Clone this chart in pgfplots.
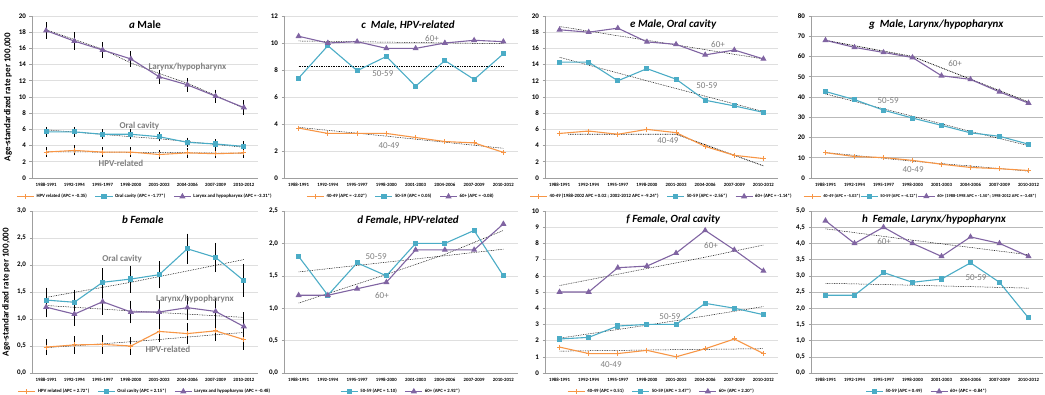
\documentclass[border=0pt]{standalone}
\usepackage{fontspec}
\setmainfont{Carlito}
\usepackage{pgfplots}
\pgfplotsset{compat=1.18}

\definecolor{cOr}{HTML}{F79646}
\definecolor{cTe}{HTML}{4BACC6}
\definecolor{cPu}{HTML}{8064A2}
\definecolor{lbl}{HTML}{7F7F7F}

\pgfplotsset{
  panel/.style={
    scale only axis, height=162pt,
    xmin=-0.5, xmax=7.5, ymin=0,
    xtick={0,...,7},
    xticklabels={1988-1991,1992-1994,1995-1997,1998-2000,2001-2003,2004-2006,2007-2009,2010-2012},
    axis x line*=bottom, axis y line*=left,
    axis line style={draw=gray!75, line width=0.6pt},
    ymajorgrids, grid style={draw=gray!25, line width=0.6pt},
    ytick style={draw=gray!75, line width=0.6pt},
    xtick style={draw=none},
    major tick length=2.5pt,
    tick align=outside,
    /pgf/number format/assume math mode=true,
    x tick label style={font=\fontsize{4.8}{5}\selectfont\bfseries, yshift=1pt},
    y tick label style={font=\fontsize{7}{8}\selectfont\bfseries},
    clip=false,
    legend style={at={(0.5,-0.085)}, anchor=north, draw=none, fill=none,
      font=\fontsize{4.8}{5}\selectfont\bfseries, inner sep=0pt,
      /tikz/every even column/.append style={column sep=6pt}},
    legend columns=-1,
  },
  commafmt/.style={yticklabel style={/pgf/number format/.cd, use comma, fixed, fixed zerofill, precision=1}},
  sO/.style={color=cOr, line width=1.1pt, mark=+, mark size=2.5pt, mark options={line width=1pt, solid}},
  sT/.style={color=cTe, line width=1.1pt, mark=square*, mark size=2pt, mark options={solid}},
  sP/.style={color=cPu, line width=1.1pt, mark=triangle*, mark size=2.5pt, mark options={solid}},
  trend/.style={black, line width=0.5pt, dash pattern=on 0.8pt off 0.9pt, forget plot},
  ebar/.style={error bars/y dir=both, error bars/y explicit,
    error bars/error bar style={black, line width=0.9pt, solid},
    error bars/error mark options={black, mark size=2.2pt, line width=0.9pt}},
}
\tikzset{
  ttl/.style={font=\fontsize{11}{12}\selectfont\bfseries\itshape},
  lab/.style={font=\fontsize{9}{10}\selectfont, text=lbl},
  labb/.style={font=\fontsize{9}{10}\selectfont\bfseries, text=lbl},
}

\begin{document}
\begin{tikzpicture}
\useasboundingbox (0,0) rectangle (1045pt,394pt);

% ---------- a: Male ----------
\begin{axis}[panel, at={(32pt,216pt)}, anchor=south west, width=226pt,
  ymax=20, ytick={0,2,...,20},
  ylabel={Age-standardized rate per 100,000},
  ylabel style={font=\fontsize{9}{10}\selectfont\bfseries}]
\addplot[trend] coordinates {(0,3.25) (4,3.15) (7,3.05)};
\addplot[trend] coordinates {(0,5.95) (3,5.1) (4,4.85) (7,3.8)};
\addplot[trend] coordinates {(0,18.3) (2,15.9) (3,14.2) (4,12.9) (5,11.7) (6,10.2) (7,8.6)};
\addplot[sO, ebar] coordinates {(0,3.2)+-(0,0.3) (1,3.4)+-(0,0.35) (2,3.2)+-(0,0.3) (3,3.2)+-(0,0.3) (4,2.9)+-(0,0.25) (5,3.1)+-(0,0.3) (6,3.0)+-(0,0.3) (7,3.1)+-(0,0.3)};
\addlegendentry{HPV related (APC = -0.35)}
\addplot[sT, ebar] coordinates {(0,5.7)+-(0,0.35) (1,5.7)+-(0,0.35) (2,5.4)+-(0,0.35) (3,5.4)+-(0,0.35) (4,5.1)+-(0,0.3) (5,4.4)+-(0,0.3) (6,4.2)+-(0,0.3) (7,3.9)+-(0,0.35)};
\addlegendentry{Oral cavity (APC = -1.77*)}
\addplot[sP, ebar] coordinates {(0,18.2)+-(0,0.75) (1,16.9)+-(0,0.8) (2,15.8)+-(0,0.7) (3,14.7)+-(0,0.7) (4,12.5)+-(0,0.6) (5,11.5)+-(0,0.6) (6,10.1)+-(0,0.55) (7,8.7)+-(0,0.65)};
\addlegendentry{Larynx and hypopharynx (APC = -3.31*)}
\node[ttl] at (axis description cs:0.5,0.945) {a \upshape Male};
\node[labb] at (axis cs:5.0,13.7) {Larynx/hypopharynx};
\node[labb] at (axis cs:3.3,6.4) {Oral cavity};
\node[labb] at (axis cs:2.65,1.85) {HPV-related};
\end{axis}

% ---------- c: Male, HPV-related ----------
\begin{axis}[panel, at={(284pt,216pt)}, anchor=south west, width=234pt,
  ymax=12, ytick={0,2,...,12}]
\addplot[trend] coordinates {(0,3.75) (3,3.1) (5,2.65) (7,2.2)};
\addplot[trend] coordinates {(0,8.27) (7,8.27)};
\addplot[trend] coordinates {(0,10.15) (7,9.95)};
\addplot[sO] coordinates {(0,3.7) (1,3.3) (2,3.3) (3,3.3) (4,3.0) (5,2.7) (6,2.6) (7,1.9)};
\addlegendentry{40-49 (APC = -2.02*)}
\addplot[sT] coordinates {(0,7.4) (1,9.8) (2,7.95) (3,9.0) (4,6.8) (5,8.7) (6,7.3) (7,9.2)};
\addlegendentry{50-59 (APC = 0.05)}
\addplot[sP] coordinates {(0,10.5) (1,10.0) (2,10.1) (3,9.6) (4,9.6) (5,10.0) (6,10.2) (7,10.1)};
\addlegendentry{60+ (APC = -0.08)}
\node[ttl] at (axis description cs:0.53,0.945) {c\ \ Male, HPV-related};
\node[lab] at (axis cs:4.56,10.3) {60+};
\node[lab] at (axis cs:2.88,7.7) {50-59};
\node[lab] at (axis cs:3.09,2.37) {40-49};
\end{axis}

% ---------- e: Male, Oral cavity ----------
\begin{axis}[panel, at={(545pt,216pt)}, anchor=south west, width=233pt,
  ymax=20, ytick={0,2,...,20}]
\addplot[trend, line width=0.8pt] coordinates {(0.3,5.4) (4,5.4) (7,1.5)};
\addplot[trend] coordinates {(0,14.9) (3,12.0) (5,10.1) (7,8.2)};
\addplot[trend] coordinates {(0,18.7) (3,17.0) (7,14.7)};
\addplot[sO] coordinates {(0,5.5) (1,5.8) (2,5.4) (3,6.0) (4,5.6) (5,3.9) (6,2.8) (7,2.4)};
\addlegendentry{40-49 (1988-2002 APC = 0.02 ; 2002-2012 APC = -9.24*)}
\addplot[sT] coordinates {(0,14.3) (1,14.3) (2,12.0) (3,13.5) (4,12.2) (5,9.6) (6,8.9) (7,8.1)};
\addlegendentry{50-59 (APC = -2.56*)}
\addplot[sP] coordinates {(0,18.3) (1,18.0) (2,18.5) (3,16.8) (4,16.5) (5,15.2) (6,15.8) (7,14.7)};
\addlegendentry{60+ (APC = -1.14*)}
\node[ttl] at (axis description cs:0.55,0.945) {e Male, Oral cavity};
\node[lab] at (axis cs:5.44,16.5) {60+};
\node[lab] at (axis cs:5.06,11.4) {50-59};
\node[lab] at (axis cs:3.72,4.57) {40-49};
\end{axis}

% ---------- g: Male, Larynx/hypopharynx ----------
\begin{axis}[panel, at={(811pt,216pt)}, anchor=south west, width=232pt,
  ymax=80, ytick={0,10,...,80}, grid style={draw=gray!55, line width=0.6pt},
  legend style={at={(-0.035,-0.085)}, anchor=north west,
    font=\fontsize{4.4}{5}\selectfont\bfseries,
    /tikz/every even column/.append style={column sep=-2pt}}]
\addplot[trend] coordinates {(0,12.6) (3,8.3) (5,5.9) (7,3.4)};
\addplot[trend] coordinates {(0,41.5) (3,30.5) (5,23.0) (7,16.0)};
\addplot[trend, line width=0.8pt] coordinates {(0,68) (3,60) (5,48.8) (7,37.5)};
\addplot[sO] coordinates {(0,12.5) (1,10.6) (2,10.1) (3,8.7) (4,6.8) (5,5.2) (6,4.6) (7,3.7)};
\addlegendentry{40-49 (APC = -5.03*)}
\addplot[sT] coordinates {(0,42.7) (1,38.7) (2,33.5) (3,29.6) (4,26.0) (5,22.3) (6,20.6) (7,16.7)};
\addlegendentry{50-59 (APC = -4.12*)}
\addplot[sP] coordinates {(0,68) (1,64.5) (2,62) (3,59.5) (4,50.5) (5,48.7) (6,42.5) (7,37)};
\addlegendentry{60+ (1988-1998 APC = -1.50*; 1998-2012 APC = -3.48*)}
\node[ttl] at (axis description cs:0.54,0.945) {g\ \ Male, Larynx/hypopharynx};
\node[lab] at (axis cs:4.47,56.3) {60+};
\node[lab] at (axis cs:2.16,38) {50-59};
\node[lab] at (axis cs:3.02,3.95) {40-49};
\end{axis}

% ---------- b: Female ----------
\begin{axis}[panel, commafmt, at={(32pt,21pt)}, anchor=south west, width=226pt,
  ymax=3, ytick={0,0.5,...,3},
  ylabel={Age-standardized rate per 100,000},
  ylabel style={font=\fontsize{9}{10}\selectfont\bfseries}]
\addplot[trend] coordinates {(0,0.47) (2,0.54) (4,0.62) (6,0.71) (7,0.75)};
\addplot[trend] coordinates {(0,1.40) (3,1.68) (5,1.89) (7,2.10)};
\addplot[trend] coordinates {(0,1.25) (3,1.15) (7,1.03)};
\addplot[sO, ebar] coordinates {(0,0.48)+-(0,0.11) (1,0.52)+-(0,0.12) (2,0.53)+-(0,0.13) (3,0.50)+-(0,0.12) (4,0.77)+-(0,0.15) (5,0.73)+-(0,0.15) (6,0.78)+-(0,0.15) (7,0.62)+-(0,0.15)};
\addlegendentry{HPV related (APC = 2.72*)}
\addplot[sT, ebar] coordinates {(0,1.35)+-(0,0.19) (1,1.31)+-(0,0.19) (2,1.68)+-(0,0.22) (3,1.74)+-(0,0.21) (4,1.82)+-(0,0.21) (5,2.30)+-(0,0.24) (6,2.14)+-(0,0.23) (7,1.71)+-(0,0.26)};
\addlegendentry{Oral cavity (APC = 2.15*)}
\addplot[sP, ebar] coordinates {(0,1.22)+-(0,0.15) (1,1.09)+-(0,0.17) (2,1.32)+-(0,0.2) (3,1.13)+-(0,0.17) (4,1.13)+-(0,0.18) (5,1.21)+-(0,0.18) (6,1.14)+-(0,0.2) (7,0.86)+-(0,0.22)};
\addlegendentry{Larynx and hypopharynx (APC = -0.48)}
\node[ttl] at (axis description cs:0.49,0.945) {b Female};
\node[labb] at (axis cs:2.69,2.11) {Oral cavity};
\node[labb] at (axis cs:5.27,1.37) {Larynx/hypopharynx};
\node[labb] at (axis cs:4.31,0.44) {HPV-related};
\end{axis}

% ---------- d: Female, HPV-related ----------
\begin{axis}[panel, commafmt, at={(284pt,21pt)}, anchor=south west, width=234pt,
  ymax=2.5, ytick={0,0.5,...,2.5}]
\addplot[trend] coordinates {(0,1.56) (3,1.71) (7,1.91)};
\addplot[trend] coordinates {(0,1.08) (3,1.52) (5,1.83) (7,2.2)};
\addplot[sT] coordinates {(0,1.8) (1,1.2) (2,1.7) (3,1.5) (4,2.0) (5,2.0) (6,2.2) (7,1.5)};
\addlegendentry{50-59 (APC = 1.10)}
\addplot[sP] coordinates {(0,1.2) (1,1.2) (2,1.3) (3,1.4) (4,1.9) (5,1.9) (6,1.9) (7,2.3)};
\addlegendentry{60+ (APC = 2.92*)}
\node[ttl] at (axis description cs:0.53,0.945) {d Female, HPV-related};
\node[lab] at (axis cs:2.65,1.79) {50-59};
\node[lab] at (axis cs:2.85,1.2) {60+};
\end{axis}

% ---------- f: Female, Oral cavity ----------
\begin{axis}[panel, at={(545pt,21pt)}, anchor=south west, width=233pt,
  ymax=10, ytick={0,1,...,10}]
\addplot[trend] coordinates {(0,1.35) (4,1.44) (7,1.5)};
\addplot[trend] coordinates {(0,2.15) (3,2.95) (5,3.52) (7,4.1)};
\addplot[trend] coordinates {(0,5.4) (3,6.45) (5,7.15) (7,7.9)};
\addplot[sO] coordinates {(0,1.6) (1,1.2) (2,1.2) (3,1.4) (4,1.0) (5,1.5) (6,2.1) (7,1.2)};
\addlegendentry{40-49 (APC = 0.51)}
\addplot[sT] coordinates {(0,2.1) (1,2.2) (2,2.9) (3,3.0) (4,3.0) (5,4.3) (6,4.0) (7,3.6)};
\addlegendentry{50-59 (APC = 3.47*)}
\addplot[sP] coordinates {(0,5.0) (1,5.0) (2,6.5) (3,6.6) (4,7.4) (5,8.8) (6,7.6) (7,6.3)};
\addlegendentry{60+ (APC = 2.20*)}
\node[ttl] at (axis description cs:0.55,0.945) {f Female, Oral cavity};
\node[lab] at (axis cs:5.2,7.9) {60+};
\node[lab] at (axis cs:3.79,3.46) {50-59};
\node[lab] at (axis cs:1.77,0.5) {40-49};
\end{axis}

% ---------- h: Female, Larynx/hypopharynx ----------
\begin{axis}[panel, commafmt, at={(811pt,21pt)}, anchor=south west, width=232pt,
  ymax=5, ytick={0,0.5,...,5}, grid style={draw=gray!55, line width=0.6pt}]
\addplot[trend] coordinates {(0,2.77) (3,2.71) (7,2.62)};
\addplot[trend] coordinates {(0,4.45) (3,4.1) (7,3.65)};
\addplot[sT] coordinates {(0,2.4) (1,2.4) (2,3.1) (3,2.8) (4,2.9) (5,3.4) (6,2.8) (7,1.7)};
\addlegendentry{50-59 (APC = 0.49)}
\addplot[sP] coordinates {(0,4.7) (1,4.0) (2,4.5) (3,4.0) (4,3.6) (5,4.2) (6,4.0) (7,3.6)};
\addlegendentry{60+ (APC = -0.84*)}
\node[ttl] at (axis description cs:0.53,0.945) {h\ \ Female, Larynx/hypopharynx};
\node[lab] at (axis cs:2.02,4.07) {60+};
\node[lab] at (axis cs:5.19,2.93) {50-59};
\end{axis}
\end{tikzpicture}
\end{document}
